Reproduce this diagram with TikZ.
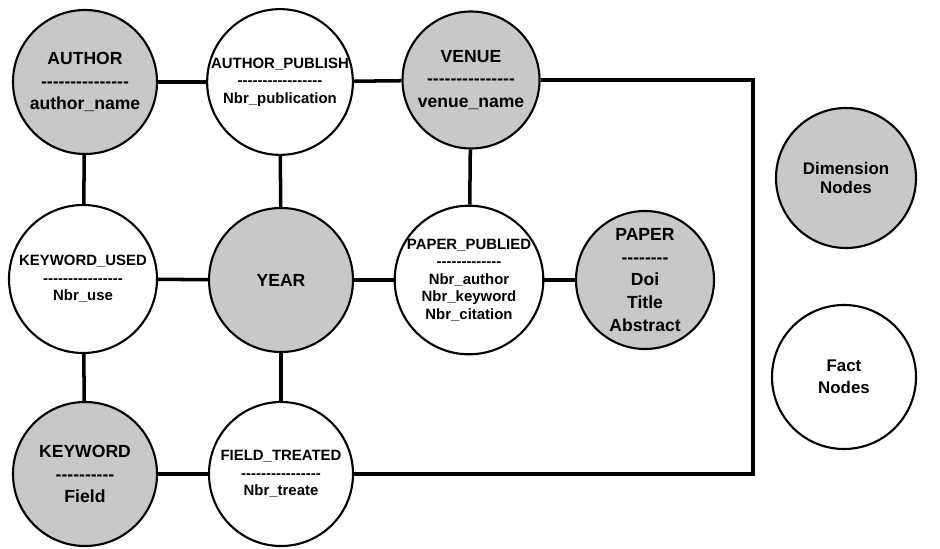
\documentclass[tikz,border=0pt]{standalone}
\usepackage{fontspec}
\setmainfont{Liberation Sans}[Ligatures=TeXOff]
\definecolor{dimgray}{RGB}{200,200,200}
\tikzset{
    dimnode/.style={circle, draw, line width=1.2pt, fill=dimgray, minimum size=2.88cm, inner sep=0pt,
        align=center, font=\fontsize{10}{13}\selectfont\bfseries},
    factnode/.style={circle, draw, line width=1.2pt, fill=white, minimum size=2.88cm, inner sep=0pt,
        align=center, font=\fontsize{8.5}{10}\selectfont\bfseries},
    link/.style={line width=2pt}
}
\begin{document}
\begin{tikzpicture}
    \useasboundingbox (0, 0) rectangle (18.8, -10.98);
        % connectors
        \coordinate (bend) at (15.06, -5.6);
        % dimension and fact nodes
        \node [dimnode] (author) at (1.70, -1.64) {AUTHOR\\---------------\\author\_name};
        \node [factnode] (publish) at (5.60, -1.64) {AUTHOR\_PUBLISH\\-----------------\\Nbr\_publication};
        \node [dimnode, minimum size=2.74cm] (venue) at (9.42, -1.60) {VENUE\\---------------\\venue\_name};
        \node [factnode, minimum size=2.96cm] (kwused) at (1.66, -5.58) {KEYWORD\_USED\\----------------\\Nbr\_use};
        \node [dimnode] (year) at (5.62, -5.60) {YEAR};
        \node [factnode, minimum size=2.8cm] (paperpub) at (9.38, -5.60) {PAPER\_PUBLIED\\-------------\\Nbr\_author\\Nbr\_keyword\\Nbr\_citation};
        \node [dimnode, minimum size=2.76cm] (paper) at (12.90, -5.60) {PAPER\\--------\\Doi\\Title\\Abstract};
        \node [dimnode] (keyword) at (1.70, -9.48) {KEYWORD\\----------\\Field};
        \node [factnode] (treated) at (5.62, -9.48) {FIELD\_TREATED\\----------------\\Nbr\_treate};
        % legend
        \node [dimnode, minimum size=2.8cm, font=\fontsize{9.6}{11.3}\selectfont\bfseries] (dimlegend) at (16.92, -3.56) {Dimension\\Nodes};
        \node [factnode, font=\fontsize{9.6}{12.4}\selectfont\bfseries] (factlegend) at (16.88, -7.54) {Fact\\Nodes};
        \draw[link] (author) -- (publish);
        \draw[link] (publish) -- (venue);
        \draw[link] (author) -- (kwused);
        \draw[link] (kwused) -- (keyword);
        \draw[link] (publish) -- (year);
        \draw[link] (year) -- (treated);
        \draw[link] (venue) -- (paperpub);
        \draw[link] (kwused) -- (year);
        \draw[link] (year) -- (paperpub);
        \draw[link] (paperpub) -- (paper);
        \draw[link] (keyword) -- (treated);
        \draw[link] (venue.east) -| (bend) |- (treated.east);
    \end{tikzpicture}
\end{document}
